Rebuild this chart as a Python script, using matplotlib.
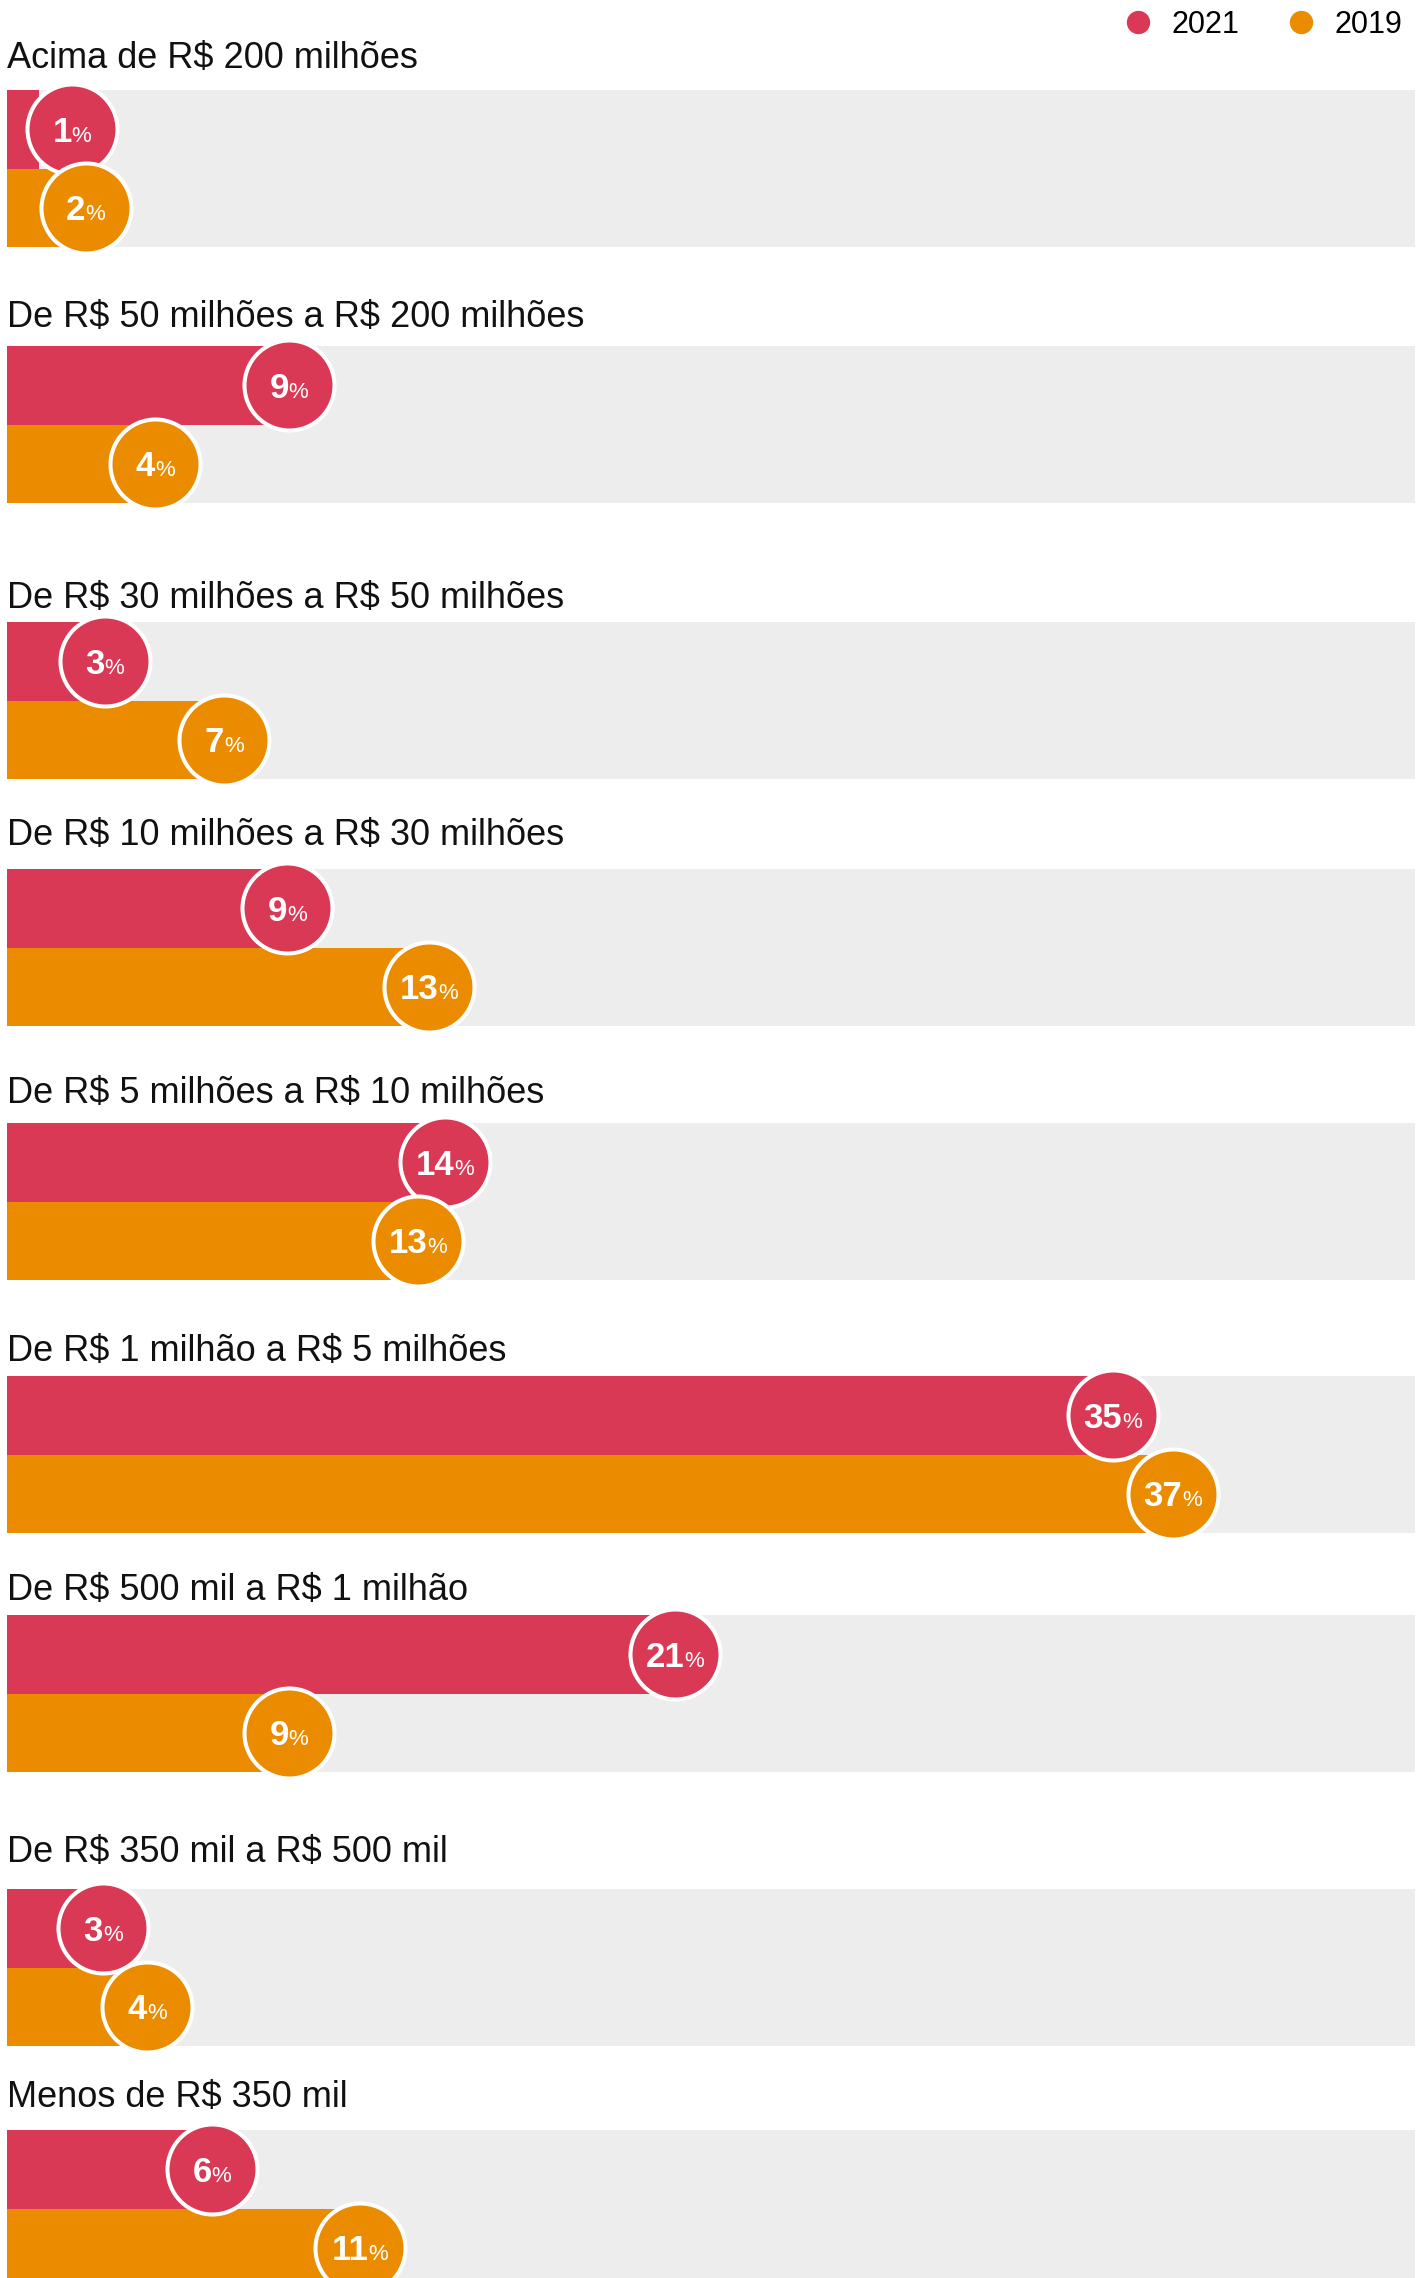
import matplotlib.pyplot as plt
from matplotlib.lines import Line2D
from matplotlib.offsetbox import TextArea, HPacker, AnnotationBbox

categories = [
    "Acima de R$ 200 milhões",
    "De R$ 50 milhões a R$ 200 milhões",
    "De R$ 30 milhões a R$ 50 milhões",
    "De R$ 10 milhões a R$ 30 milhões",
    "De R$ 5 milhões a R$ 10 milhões",
    "De R$ 1 milhão a R$ 5 milhões",
    "De R$ 500 mil a R$ 1 milhão",
    "De R$ 350 mil a R$ 500 mil",
    "Menos de R$ 350 mil",
]
years = ["2021", "2019"]
# bar lengths (the bubbles show the rounded values)
v2021 = [1.0, 8.95, 3.1, 8.9, 13.9, 35.1, 21.2, 3.05, 6.5]
v2019 = [2.5, 4.7, 6.9, 13.4, 13.05, 37.0, 8.95, 4.45, 11.2]
lab2021 = [1, 9, 3, 9, 14, 35, 21, 3, 6]
lab2019 = [2, 4, 7, 13, 13, 37, 9, 4, 11]

plt.rcParams['font.family'] = ['Liberation Sans', 'DejaVu Sans']

RED = '#D93954'
ORANGE = '#EB8C00'
BG = '#EDEDED'

W, H = 1424, 2278
fig = plt.figure(figsize=(W / 100, H / 100), dpi=100)

# layout in pixels (top of each grey block and baseline of its title)
tops = [90, 346, 622, 869, 1123, 1376, 1615, 1889, 2130]
baselines = [68, 327, 608, 845, 1103, 1361, 1600, 1862, 2107]
GH = 157
X0, X1 = 7, 1415
PX_PER_PCT = 31.5
XMAX = (X1 - X0) / PX_PER_PCT
MIN_X = 2.06   # keep bubbles off the left edge


def bubble_label(ax, x, y, value):
    num = TextArea(str(value), textprops=dict(color='white', fontsize=25,
                                              fontweight='bold'))
    pct = TextArea('%', textprops=dict(color='white', fontsize=16))
    box = HPacker(children=[num, pct], align='baseline', pad=0, sep=0)
    ab = AnnotationBbox(box, (x, y), xybox=(0, -2), boxcoords='offset points',
                        frameon=False, box_alignment=(0.5, 0.5),
                        annotation_clip=False, zorder=10)
    ax.add_artist(ab)


for i, cat in enumerate(categories):
    ax = fig.add_axes([X0 / W, 1 - (tops[i] + GH) / H, (X1 - X0) / W, GH / H])
    ax.set_facecolor(BG)
    ax.set_xlim(0, XMAX)
    ax.set_ylim(0, 2)
    ax.set_xticks([])
    ax.set_yticks([])
    for sp in ax.spines.values():
        sp.set_visible(False)

    ax.barh(1.5, v2021[i], height=1, color=RED, zorder=2)
    ax.barh(0.5, v2019[i], height=1, color=ORANGE, zorder=2)

    for val, lab, yy, col, z in [(v2021[i], lab2021[i], 1.5, RED, 4),
                                 (v2019[i], lab2019[i], 0.5, ORANGE, 6)]:
        xx = max(val, MIN_X)
        ax.scatter([xx], [yy], s=4200, color=col, edgecolor='white',
                   linewidth=2.9, zorder=z, clip_on=False)
        bubble_label(ax, xx, yy, lab)

    fig.text(X0 / W, 1 - baselines[i] / H, cat, fontsize=26, ha='left',
             va='baseline', color='#111111', parse_math=False)

handles = [Line2D([], [], marker='o', ls='', color=c, markersize=15.8)
           for c in (RED, ORANGE)]
fig.legend(handles, years, loc='center right', ncol=2, frameon=False,
           fontsize=22, handlelength=1, handletextpad=0.6, columnspacing=1.5,
           borderpad=0, borderaxespad=0,
           bbox_to_anchor=(1402 / W, 1 - 25 / H))

fig.savefig('out.png', dpi=100)
